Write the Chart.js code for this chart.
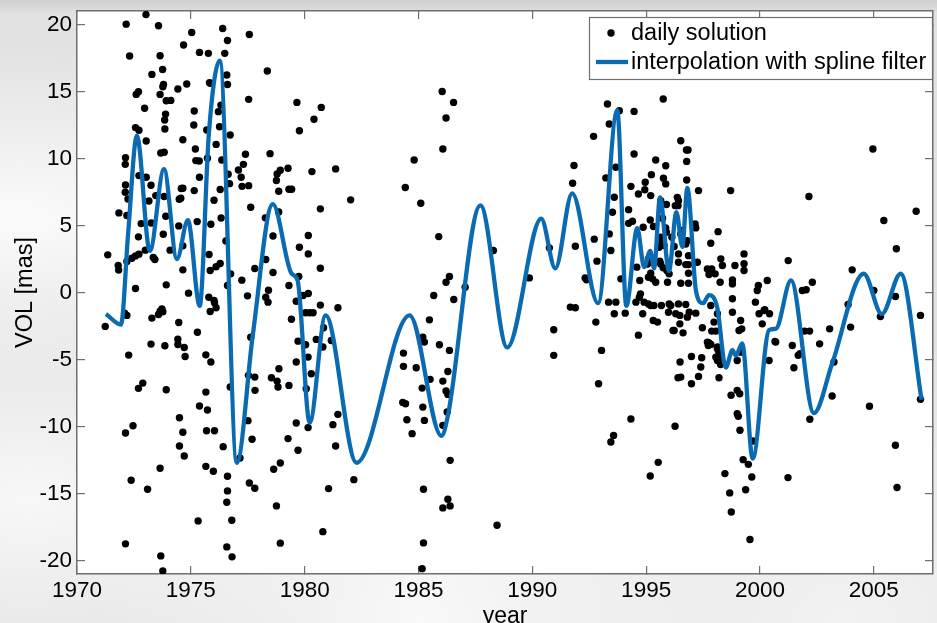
<!DOCTYPE html>
<html>
<head>
<meta charset="utf-8">
<script src="https://cdn.jsdelivr.net/npm/chart.js@4.4.1/dist/chart.umd.min.js"></script>
<style>
    html, body { margin: 0; padding: 0; width: 937px; height: 623px; overflow: hidden; }
    body {
        background-color: #e2e2e2;
        background-image:
            linear-gradient(to bottom, #cfcfcf 0px, rgba(207,207,207,0) 14px),
            radial-gradient(ellipse at 2% 35%, rgba(252,252,252,0.95) 0%, rgba(252,252,252,0) 30%),
            radial-gradient(ellipse at 3% 80%, rgba(250,250,250,0.9) 0%, rgba(250,250,250,0) 28%),
            radial-gradient(ellipse at 45% 100%, rgba(250,250,250,0.95) 0%, rgba(250,250,250,0) 45%),
            radial-gradient(ellipse at 90% 100%, rgba(244,244,244,0.9) 0%, rgba(244,244,244,0) 35%);
    }
    #wrap { position: relative; width: 937px; height: 632px; }
</style>
</head>
<body>
<div id="wrap"><canvas id="myChart" width="937" height="632"></canvas></div>
<script>
// ---- data: [year, VOL in mas] ----
let dailyPoints = [
    [1971.24, -2.53], [1971.35, 2.81], [1971.81, 2.01], [1971.83, 1.67], [1971.84, 5.94],
    [1972.09, -1.54], [1972.12, 9.56], [1972.12, 7.48], [1972.13, 10.06], [1972.13, 8.02],
    [1972.13, -10.48], [1972.13, -18.75], [1972.16, 20.02], [1972.19, 5.74], [1972.19, 2.31],
    [1972.19, -1.71], [1972.24, 6.98], [1972.27, -4.67], [1972.31, 17.64], [1972.38, -14.01],
    [1972.41, 2.56], [1972.46, -9.94], [1972.57, 12.30], [1972.57, 2.73], [1972.57, 0.30],
    [1972.60, 14.78], [1972.70, 14.98], [1972.70, 4.15], [1972.70, -7.15], [1972.72, 12.10],
    [1972.72, 8.72], [1972.72, 2.86], [1972.82, 5.14], [1972.89, -6.76], [1972.97, 13.74],
    [1973.00, 3.16], [1973.03, 20.74], [1973.04, 11.30], [1973.04, 8.60], [1973.10, -14.68],
    [1973.16, 6.83], [1973.25, 8.00], [1973.25, -3.85], [1973.26, 5.19], [1973.29, 16.27],
    [1973.29, -1.91], [1973.35, 2.61], [1973.42, 2.46], [1973.46, 7.23], [1973.58, 19.90],
    [1973.58, -1.64], [1973.65, 17.66], [1973.65, 14.78], [1973.65, -1.39], [1973.65, -13.11],
    [1973.68, 10.41], [1973.68, -19.65], [1973.73, -1.22], [1973.76, 16.64], [1973.77, 15.35],
    [1973.77, -1.44], [1973.77, -20.77], [1973.79, 4.35], [1973.80, 15.52], [1973.83, 10.46],
    [1973.83, 7.16], [1973.85, 12.87], [1973.86, 12.20], [1973.86, -3.97], [1973.89, 13.31],
    [1973.90, 5.69], [1973.92, 14.31], [1973.92, 0.57], [1973.92, -7.25], [1974.09, 3.16],
    [1974.12, 14.33], [1974.43, 15.18], [1974.43, -3.48], [1974.43, -3.88], [1974.47, 4.97],
    [1974.47, -2.24], [1974.49, 6.96], [1974.50, -9.34], [1974.50, -11.45], [1974.56, 7.03],
    [1974.58, 7.76], [1974.65, 11.40], [1974.65, 7.78], [1974.65, 3.48], [1974.65, 1.69],
    [1974.65, -10.43], [1974.68, 18.46], [1974.71, -4.10], [1974.71, -12.20], [1974.75, -4.77],
    [1974.82, 15.55], [1974.90, -0.05], [1975.04, 19.40], [1975.13, 12.50], [1975.15, 13.54],
    [1975.15, 7.60], [1975.20, 10.71], [1975.22, 9.84], [1975.28, 5.29], [1975.29, -2.96],
    [1975.32, -17.04], [1975.37, 9.81], [1975.38, 17.91], [1975.38, 8.60], [1975.38, -8.47],
    [1975.66, -4.65], [1975.66, -7.43], [1975.66, -12.97], [1975.69, -10.31], [1975.70, 12.12],
    [1975.73, 10.01], [1975.73, -8.77], [1975.77, 17.84], [1975.79, -0.35], [1975.80, 2.83],
    [1975.82, 15.65], [1975.85, 1.64], [1975.85, -1.42], [1975.88, 15.60], [1975.88, 5.09],
    [1975.88, -5.19], [1975.99, -13.34], [1976.02, 6.88], [1976.02, -0.60], [1976.04, -0.77],
    [1976.04, -10.31], [1976.11, 11.05], [1976.11, 1.92], [1976.11, -1.14], [1976.21, 13.49],
    [1976.26, 12.37], [1976.29, 7.68], [1976.29, 2.16], [1976.32, 13.98], [1976.33, 5.56],
    [1976.36, 9.89], [1976.40, 19.70], [1976.42, -11.50], [1976.49, 17.84], [1976.54, 3.85],
    [1976.58, 16.22], [1976.58, -15.65], [1976.58, -18.98], [1976.61, 18.80], [1976.61, 15.52],
    [1976.61, 0.52], [1976.61, -13.71], [1976.61, -14.80], [1976.64, 8.82], [1976.70, 8.12],
    [1976.73, 11.75], [1976.73, -7.05], [1976.75, 1.39], [1976.80, -16.99], [1976.81, -19.72],
    [1977.09, 9.14], [1977.16, -12.35], [1977.21, 8.60], [1977.24, 0.92], [1977.25, 7.92],
    [1977.31, 9.56], [1977.40, 10.31], [1977.49, -0.25], [1977.51, -9.56], [1977.53, -6.18],
    [1977.54, 14.41], [1977.54, 7.97], [1977.57, 19.25], [1977.57, -14.21], [1977.63, 6.36],
    [1977.63, -3.33], [1977.69, -10.95], [1977.81, 1.79], [1977.81, -6.31], [1977.81, -14.60],
    [1977.82, -7.30], [1978.27, 5.57], [1978.29, 2.46], [1978.29, -0.35], [1978.36, 16.52],
    [1978.39, -0.72], [1978.41, 0.17], [1978.48, 10.36], [1978.54, -6.36], [1978.61, 4.22],
    [1978.61, 1.49], [1978.64, -13.19], [1978.76, 8.35], [1978.76, -15.92], [1978.79, 8.84],
    [1978.79, -6.61], [1978.83, -7.05], [1978.86, 7.55], [1978.86, 6.01], [1978.87, -5.69],
    [1978.93, 9.12], [1978.93, -12.72], [1978.93, -18.70], [1979.27, 9.27], [1979.27, -10.90],
    [1979.31, 7.70], [1979.31, 0.52], [1979.31, -6.93], [1979.42, -1.99], [1979.43, 7.70],
    [1979.63, -0.65], [1979.63, -5.19], [1979.63, -9.74], [1979.66, 14.18], [1979.71, -3.63],
    [1979.71, -11.77], [1979.74, 1.19], [1979.77, 12.07], [1979.77, 3.38], [1979.93, -0.22],
    [1980.04, -1.51], [1980.04, -3.90], [1980.07, -7.18], [1980.15, -4.82], [1980.15, -10.08],
    [1980.16, 4.25], [1980.16, 2.88], [1980.16, -0.07], [1980.22, -1.51], [1980.29, -6.06],
    [1980.32, 9.02], [1980.37, -1.51], [1980.41, 12.92], [1980.51, -3.50], [1980.69, 6.24],
    [1980.69, 1.81], [1980.69, -0.94], [1980.73, 13.81], [1980.80, -4.07], [1980.80, -17.84],
    [1980.83, -2.63], [1981.05, -14.63], [1981.17, -3.58], [1981.24, -9.86], [1981.36, 9.22],
    [1981.36, -11.45], [1981.46, -1.14], [1981.46, -9.09], [1982.02, 6.91], [1982.16, -13.96],
    [1984.31, -8.20], [1984.34, -4.52], [1984.34, -5.51], [1984.42, 7.83], [1984.43, -8.30],
    [1984.49, -9.49], [1984.72, -10.53], [1984.81, 9.89], [1984.90, -5.61], [1985.10, 6.66],
    [1985.16, -7.13], [1985.16, -20.60], [1985.19, -3.33], [1985.19, -8.55], [1985.22, -14.68],
    [1985.22, -18.68], [1985.26, -3.70], [1985.26, -9.54], [1985.48, -2.04], [1985.51, -6.48],
    [1985.67, -0.22], [1985.89, 4.17], [1985.92, -3.90], [1986.04, 15.00], [1986.07, 10.71],
    [1986.07, -6.61], [1986.07, -9.91], [1986.07, -16.07], [1986.21, 13.02], [1986.21, 0.77],
    [1986.21, -7.35], [1986.26, -8.92], [1986.29, -5.89], [1986.29, -7.60], [1986.29, -15.42],
    [1986.36, 1.19], [1986.36, -4.32], [1986.39, -12.52], [1986.39, -15.92], [1986.54, 14.18],
    [1986.55, -0.52], [1987.05, 0.40], [1988.29, 3.13], [1988.45, -17.36], [1989.87, 1.09],
    [1990.75, 3.33], [1990.94, -2.78], [1990.94, -4.69], [1991.67, -1.09], [1991.77, 8.15],
    [1991.83, 9.47], [1991.89, 3.45], [1991.89, -1.14], [1992.32, 1.09], [1992.38, 0.95],
    [1992.69, 11.65], [1992.72, 3.98], [1992.79, -2.21], [1992.84, 2.34], [1992.91, -6.81],
    [1993.04, -4.32], [1993.23, 8.55], [1993.30, 14.06], [1993.35, -0.72], [1993.38, 12.57],
    [1993.38, 4.37], [1993.45, 3.13], [1993.45, -11.15], [1993.52, 5.99], [1993.57, -10.66],
    [1993.60, 7.11], [1993.60, -1.59], [1993.67, 9.34], [1993.67, -0.72], [1993.82, 13.56],
    [1993.89, 1.02], [1994.08, -1.54], [1994.23, 6.18], [1994.23, 5.16], [1994.33, 7.92],
    [1994.33, -9.44], [1994.40, 5.31], [1994.47, 13.51], [1994.47, 10.33], [1994.55, -0.72],
    [1994.59, 1.89], [1994.66, 7.35], [1994.66, -3.18], [1994.70, -0.35], [1994.72, 0.89],
    [1994.75, -0.10], [1994.85, -1.59], [1994.87, 4.87], [1994.91, -0.72], [1994.94, 7.67],
    [1994.96, 8.22], [1995.06, 2.13], [1995.10, 2.51], [1995.10, 1.14], [1995.10, -0.85],
    [1995.18, 5.41], [1995.18, -13.69], [1995.20, 7.23], [1995.20, 1.44], [1995.20, -0.97],
    [1995.23, 8.79], [1995.28, 1.02], [1995.31, -2.09], [1995.32, 4.92], [1995.34, -0.97],
    [1995.42, 9.88], [1995.42, 0.77], [1995.50, -2.21], [1995.53, -12.67], [1995.57, 3.38],
    [1995.60, 2.33], [1995.64, 6.85], [1995.64, 4.12], [1995.64, 2.13], [1995.67, -0.97],
    [1995.69, 3.75], [1995.72, 5.54], [1995.75, 14.43], [1995.75, 1.84], [1995.76, 8.52],
    [1995.79, 3.50], [1995.86, 9.46], [1995.86, 8.10], [1995.86, 4.82], [1995.89, 6.56],
    [1995.89, 4.49], [1995.91, 1.64], [1995.94, 0.77], [1995.98, -1.47], [1996.01, 1.39],
    [1996.01, -0.85], [1996.08, -0.97], [1996.13, 4.12], [1996.18, -2.83], [1996.23, 3.43],
    [1996.23, -2.83], [1996.27, -9.98], [1996.28, 6.48], [1996.30, -1.59], [1996.37, 7.10],
    [1996.40, 6.48], [1996.40, -6.36], [1996.42, 6.85], [1996.42, 2.88], [1996.42, 2.26],
    [1996.42, -0.85], [1996.48, -1.71], [1996.48, -2.34], [1996.49, -5.19], [1996.52, 11.32],
    [1996.52, 4.37], [1996.52, 0.69], [1996.52, -6.31], [1996.59, 4.62], [1996.62, -3.01],
    [1996.74, 3.62], [1996.74, 2.08], [1996.74, -0.89], [1996.77, 10.63], [1996.78, 9.78],
    [1996.78, 8.39], [1996.81, 3.87], [1996.81, -1.84], [1996.84, 10.63], [1996.86, 2.75],
    [1996.86, 2.08], [1996.86, 1.44], [1996.86, 0.69], [1996.89, -1.47], [1996.99, -4.77],
    [1996.99, -6.81], [1997.15, 5.11], [1997.18, 4.82], [1997.18, -1.54], [1997.25, 2.26],
    [1997.30, 7.60], [1997.30, -6.26], [1997.40, -5.56], [1997.44, -4.87], [1997.47, -2.63],
    [1997.69, 1.76], [1997.69, -3.70], [1997.73, -3.95], [1997.76, 1.34], [1997.76, -3.77],
    [1997.79, -3.83], [1997.84, 3.67], [1997.84, -0.97], [1997.84, -3.87], [1997.88, 1.76],
    [1997.88, -2.88], [1997.98, -2.21], [1998.03, 1.39], [1998.06, -2.88], [1998.06, -4.82],
    [1998.13, -1.59], [1998.13, -4.07], [1998.13, -4.20], [1998.13, -5.07], [1998.16, 4.54],
    [1998.20, -4.45], [1998.20, -4.70], [1998.20, -6.36], [1998.25, 0.77], [1998.27, -5.37],
    [1998.28, 2.51], [1998.28, -5.07], [1998.35, 2.01], [1998.46, -13.51], [1998.67, -14.95],
    [1998.71, 7.60], [1998.73, -7.67], [1998.74, -16.37], [1998.79, 0.94], [1998.79, 0.64],
    [1998.79, -0.47], [1998.79, -1.47], [1998.90, 2.01], [1999.00, -5.07], [1999.00, -7.30],
    [1999.00, -9.04], [1999.05, -9.24], [1999.08, -2.83], [1999.11, -7.55], [1999.12, -10.28],
    [1999.15, -2.09], [1999.15, -4.45], [1999.20, -2.71], [1999.26, -12.47], [1999.30, 2.88],
    [1999.30, 2.14], [1999.30, 1.64], [1999.37, -14.71], [1999.49, -12.82], [1999.56, -18.43],
    [1999.64, -13.76], [1999.69, -11.08], [1999.80, -0.72], [1999.88, 0.15], [1999.93, 0.52],
    [1999.96, -1.59], [2000.10, -2.34], [2000.18, -1.34], [2000.21, -1.29], [2000.32, 0.89],
    [2000.40, -5.07], [2000.42, -1.59], [2000.66, -3.65], [2000.69, -3.70], [2001.23, -13.81],
    [2001.24, 2.38], [2001.42, -3.95], [2001.49, -5.61], [2001.68, -4.69], [2001.76, -4.57],
    [2001.86, 0.15], [2001.96, -2.88], [2002.03, 0.20], [2002.15, 7.16], [2002.18, -2.88],
    [2002.19, -9.46], [2002.30, 0.77], [2002.62, -3.83], [2003.06, -2.71], [2003.17, -7.72],
    [2003.25, -5.19], [2003.87, -0.89], [2003.98, -2.58], [2004.05, 1.69], [2004.81, -8.49],
    [2004.96, 10.71], [2005.00, 0.15], [2005.29, -1.79], [2005.44, 5.37], [2005.95, -0.30],
    [2005.95, -11.40], [2005.99, 3.26], [2006.02, -14.55], [2006.86, 6.06], [2007.05, -1.71],
    [2007.05, -7.97]
];

let splinePoints = [
    [1971.27, -1.6], [1971.93, -2.4], [1972.25, 4.5], [1972.63, 11.7], [1973.20, 3.1],
    [1973.82, 9.2], [1974.39, 2.5], [1974.87, 5.4], [1975.39, -1.0], [1975.79, 11.8],
    [1976.27, 17.3], [1977.02, -12.7], [1977.72, -3.2], [1978.60, 6.6], [1979.43, 1.4],
    [1979.69, 0.9], [1980.22, -9.7], [1980.92, -1.7], [1982.28, -12.7], [1984.61, -1.7],
    [1986.01, -10.7], [1986.29, -9.2], [1987.72, 6.5], [1988.90, -4.1], [1990.39, 5.5],
    [1991.01, 1.8], [1991.75, 7.4], [1992.89, -0.8], [1993.73, 13.6], [1994.13, -1.0],
    [1994.61, 4.8], [1994.91, 1.9], [1995.18, 3.1], [1995.35, 1.8], [1995.61, 7.1],
    [1996.00, 1.6], [1996.33, 6.0], [1996.59, 3.4], [1996.81, 7.8], [1997.19, 0.1],
    [1997.50, -0.8], [1997.76, -0.2], [1998.12, -1.1], [1998.50, -5.6], [1998.79, -4.3],
    [1998.94, -4.7], [1999.22, -3.8], [1999.68, -12.4], [2000.40, -2.8], [2000.70, -2.7],
    [2001.36, 0.9], [2002.37, -9.0], [2003.17, -5.3], [2004.56, 1.4], [2005.35, -1.6],
    [2006.18, 1.4], [2007.10, -8.0]
];

let seriesLabels = ['daily solution', 'interpolation with spline filter'];
let xTicks = [1970, 1975, 1980, 1985, 1990, 1995, 2000, 2005];
let yTicks = [-20, -15, -10, -5, 0, 5, 10, 15, 20];
let xRange = [1970, 2007.6];
let yRange = [-21, 21];
let xTitle = 'year';
let yTitle = 'VOL [mas]';

// ---- styling ----
const fontFamily = '"Liberation Sans", Arial, Helvetica, sans-serif';
const axisColor = '#6f6f6f';
const splineColor = '#0a6bb3';

const inwardGrid = { drawOnChartArea: false, drawTicks: true, tickLength: -8, color: axisColor, lineWidth: 1.2 };
const boxBorder = { display: true, color: axisColor, width: 1.5 };

let useTicks = (values) => (scale) => { scale.ticks = values.map(v => ({ value: v })); };

// fixed axis sizes so the plot box lands where the original has it
let fixSize = (prop, size) => (scale) => {
    scale[prop] = size;
    scale.paddingTop = 0;
    scale.paddingBottom = 0;
    scale.paddingLeft = 0;
    scale.paddingRight = 0;
};

const plotBackground = {
    id: 'plotBackground',
    beforeDraw(chart) {
        const { ctx, chartArea: a } = chart;
        ctx.save();
        ctx.fillStyle = '#ffffff';
        ctx.fillRect(a.left, a.top, a.right - a.left, a.bottom - a.top);
        ctx.restore();
    }
};

// matlab-like legend box in the upper right corner
const boxLegend = {
    id: 'boxLegend',
    afterDraw(chart) {
        const { ctx, chartArea: a } = chart;
        const line = chart.data.datasets[0];
        const dots = chart.data.datasets[1];
        const x0 = a.right - 344, y0 = a.top + 6, w = 343, h = 62;
        ctx.save();
        ctx.fillStyle = '#ffffff';
        ctx.fillRect(x0, y0, w, h);
        ctx.strokeStyle = axisColor;
        ctx.lineWidth = 1.2;
        ctx.strokeRect(x0 + 0.5, y0 + 0.5, w, h);

        ctx.font = '23.5px ' + fontFamily;
        ctx.textBaseline = 'middle';
        ctx.fillStyle = '#000000';
        ctx.beginPath();
        ctx.arc(x0 + 22, y0 + 16, dots.pointRadius, 0, Math.PI * 2);
        ctx.fill();
        ctx.fillText(dots.label, x0 + 42, y0 + 17);

        ctx.strokeStyle = line.borderColor;
        ctx.lineWidth = line.borderWidth;
        ctx.beginPath();
        ctx.moveTo(x0 + 7, y0 + 45);
        ctx.lineTo(x0 + 39, y0 + 45);
        ctx.stroke();
        ctx.fillText(line.label, x0 + 42, y0 + 46);
        ctx.restore();
    }
};

let ctx = document.getElementById('myChart').getContext('2d');
let myChart = new Chart(ctx, {
    type: 'scatter',
    data: {
        datasets: [{
            type: 'line',
            label: seriesLabels[1],
            data: splinePoints.map(p => ({ x: p[0], y: p[1] })),
            borderColor: splineColor,
            borderWidth: 4.3,
            pointRadius: 0,
            fill: false,
            cubicInterpolationMode: 'monotone',
            order: 0
        }, {
            label: seriesLabels[0],
            data: dailyPoints.map(p => ({ x: p[0], y: p[1] })),
            pointRadius: 3.7,
            pointBackgroundColor: '#000000',
            pointBorderWidth: 0,
            order: 1
        }]
    },
    options: {
        responsive: false,
        animation: false,
        devicePixelRatio: 1,
        layout: { padding: 0 },
        plugins: {
            legend: { display: false },
            tooltip: { enabled: false }
        },
        scales: {
            x: {
                type: 'linear',
                position: 'bottom',
                min: xRange[0],
                max: xRange[1],
                afterBuildTicks: useTicks(xTicks),
                afterFit: fixSize('height', 58),
                grid: inwardGrid,
                border: boxBorder,
                ticks: {
                    color: '#000',
                    font: { family: fontFamily, size: 22.5 },
                    padding: 11,
                    maxRotation: 0,
                    autoSkip: false,
                    callback: (v) => String(v)
                },
                title: {
                    display: true,
                    text: xTitle,
                    color: '#000',
                    font: { family: fontFamily, size: 23 },
                    padding: { top: 0, bottom: 2 }
                }
            },
            x2: {
                type: 'linear',
                position: 'top',
                min: xRange[0],
                max: xRange[1],
                afterBuildTicks: useTicks(xTicks),
                afterFit: fixSize('height', 11),
                grid: inwardGrid,
                border: boxBorder,
                ticks: { display: false }
            },
            y: {
                type: 'linear',
                position: 'left',
                min: yRange[0],
                max: yRange[1],
                afterBuildTicks: useTicks(yTicks),
                afterFit: fixSize('width', 77),
                grid: inwardGrid,
                border: boxBorder,
                ticks: {
                    color: '#000',
                    font: { family: fontFamily, size: 22.5 },
                    padding: 13,
                    callback: (v) => String(v)
                },
                title: {
                    display: true,
                    text: yTitle,
                    color: '#000',
                    font: { family: fontFamily, size: 23.5 },
                    padding: { top: 11, bottom: 0 }
                }
            },
            y2: {
                type: 'linear',
                position: 'right',
                min: yRange[0],
                max: yRange[1],
                afterBuildTicks: useTicks(yTicks),
                afterFit: fixSize('width', 2),
                grid: inwardGrid,
                border: boxBorder,
                ticks: { display: false }
            }
        }
    },
    plugins: [plotBackground, boxLegend]
});
</script>
</body>
</html>
